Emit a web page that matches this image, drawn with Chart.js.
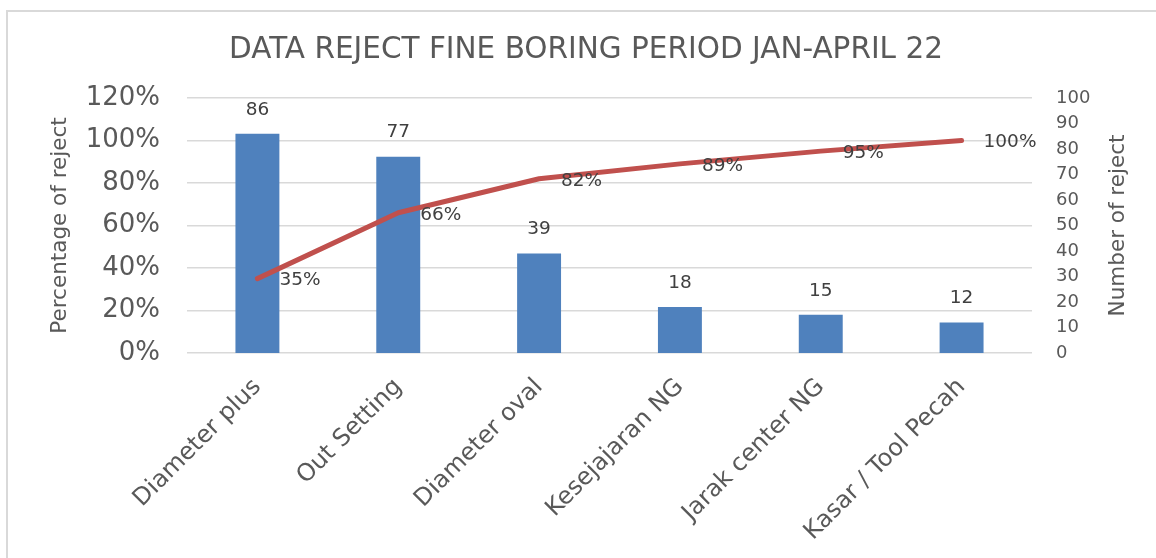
<!DOCTYPE html>
<html>
<head>
<meta charset="utf-8">
<script src="https://cdn.jsdelivr.net/npm/chart.js@4.4.1/dist/chart.umd.min.js"></script>
<style>
  html, body { margin: 0; padding: 0; background: #fff; overflow: hidden; }
  #frame { position: absolute; left: 6px; top: 10px; width: 1160px; height: 560px; border: 2px solid #d9d9d9; }
  canvas { display: block; }
</style>
</head>
<body>
<div id="frame"><canvas id="paretoChart" width="1156" height="546"></canvas></div>
<script>
// data
const categories = ['Diameter plus', 'Out Setting', 'Diameter oval', 'Kesejajaran NG', 'Jarak center NG', 'Kasar / Tool Pecah'];
const rejectCounts = [86, 77, 39, 18, 15, 12];
const cumulativePct = [0.35, 0.66, 0.82, 0.89, 0.95, 1.00];
const chartTitle = 'DATA REJECT FINE BORING PERIOD JAN-APRIL 22';
const leftAxisTitle = 'Percentage of reject';
const rightAxisTitle = 'Number of reject';

const FONT = '"DejaVu Sans", Verdana, sans-serif';
const GREY = '#595959';

// labels above bars, to the right of line points, and the right axis title
const labelPlugin = {
    id: 'labelPlugin',
    afterDatasetsDraw(chart) {
        const ctx = chart.ctx;
        ctx.save();
        ctx.font = '18.5px ' + FONT;
        ctx.fillStyle = '#404040';
        ctx.textBaseline = 'middle';
        chart.data.datasets.forEach((ds, i) => {
            const meta = chart.getDatasetMeta(i);
            meta.data.forEach((el, j) => {
                if (ds.type === 'bar') {
                    ctx.textAlign = 'center';
                    ctx.fillText(ds.data[j], el.x, el.y - 24);
                } else {
                    ctx.textAlign = 'left';
                    ctx.fillText(Math.round(ds.data[j] * 100) + '%', el.x + 22, el.y + 2);
                }
            });
        });

        // right axis title reads bottom to top like the left one
        const r = chart.scales.yRight;
        ctx.translate(r.right - 46, (r.top + r.bottom) / 2);
        ctx.rotate(-Math.PI / 2);
        ctx.font = '21.5px ' + FONT;
        ctx.fillStyle = GREY;
        ctx.textAlign = 'center';
        ctx.fillText(rightAxisTitle, 0, 0);
        ctx.restore();
    }
};

const ctx = document.getElementById('paretoChart').getContext('2d');
new Chart(ctx, {
    data: {
        labels: categories,
        datasets: [
            {
                type: 'line',
                label: 'Cumulative %',
                data: cumulativePct,
                yAxisID: 'yLeft',
                borderColor: '#C0504D',
                borderWidth: 5,
                borderCapStyle: 'round',
                borderJoinStyle: 'round',
                pointRadius: 0,
                tension: 0,
                order: 0
            },
            {
                type: 'bar',
                label: 'Number of reject',
                data: rejectCounts,
                yAxisID: 'yRight',
                backgroundColor: '#4F81BD',
                categoryPercentage: 1,
                barPercentage: 0.312,
                order: 1
            }
        ]
    },
    options: {
        responsive: false,
        animation: false,
        layout: { padding: 0 },
        plugins: {
            legend: { display: false },
            tooltip: { enabled: false },
            title: {
                display: true,
                text: chartTitle,
                color: GREY,
                font: { family: FONT, size: 29.5, weight: 'normal' },
                padding: { top: 21, bottom: 29.6 }
            }
        },
        scales: {
            x: {
                grid: { display: false },
                border: { display: false },
                ticks: {
                    color: GREY,
                    font: { family: FONT, size: 24 },
                    minRotation: 45,
                    maxRotation: 45,
                    autoSkip: false,
                    padding: 12
                },
                afterFit(s) { s.height = 205; }
            },
            yLeft: {
                position: 'left',
                min: 0,
                max: 1.2,
                grid: { color: '#d9d9d9', lineWidth: 1.5, drawTicks: false },
                border: { display: false },
                ticks: {
                    stepSize: 0.2,
                    color: GREY,
                    font: { family: FONT, size: 26 },
                    padding: 27,
                    callback: v => Math.round(v * 100) + '%'
                },
                title: {
                    display: true,
                    text: leftAxisTitle,
                    color: GREY,
                    font: { family: FONT, size: 21.5 },
                    padding: { top: 40, bottom: 0 }
                },
                afterFit(s) { s.width = 179; }
            },
            yRight: {
                position: 'right',
                min: 0,
                max: 100,
                grid: { display: false, drawTicks: false },
                border: { display: false },
                ticks: {
                    stepSize: 10,
                    color: GREY,
                    font: { family: FONT, size: 18 },
                    padding: 24
                },
                afterFit(s) { s.width = 132; }
            }
        }
    },
    plugins: [labelPlugin]
});
</script>
</body>
</html>
